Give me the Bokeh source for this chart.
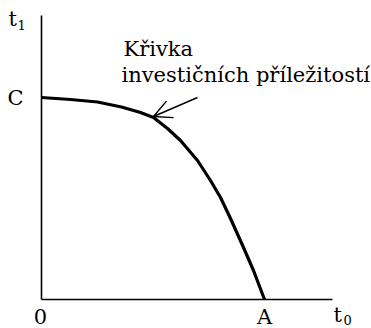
from bokeh.plotting import figure
from bokeh.models import Range1d, Arrow, OpenHead
from bokeh.core.properties import value
from bokeh.embed import file_html
from bokeh.resources import INLINE

# data
curve_t0 = [0, 29, 56, 80, 99, 112, 126, 139, 156, 169, 179, 189, 202, 212, 223]
curve_t1 = [202, 200, 197.5, 192.5, 187, 182, 171, 159, 139, 119, 102, 81, 52, 29, 0]
C_value = 202
A_value = 223
axis_x_end = 291
axis_y_end = 284
label_lines = ["Křivka", "investičních příležitostí"]
arrow_from = (156, 202)
arrow_to = (112, 183)

FONT = "DejaVu Serif"

p = figure(width=371, height=328, output_backend="svg", toolbar_location=None,
           x_range=Range1d(-41, 330), y_range=Range1d(-29, 299),
           min_border=0, min_border_left=0, min_border_right=0,
           min_border_top=0, min_border_bottom=0)
p.axis.visible = False
p.grid.visible = False
p.outline_line_color = None
p.background_fill_color = "white"
p.border_fill_color = "white"

# axes
p.line([0, 0], [0, axis_y_end], line_color="black", line_width=1.6)
p.line([0, axis_x_end], [0, 0], line_color="black", line_width=1.6)

# curve
p.line(curve_t0, curve_t1, line_color="black", line_width=3.2, line_join="round")

# arrow
p.add_layout(Arrow(end=OpenHead(size=18, line_width=1.4, line_color="black"),
                   x_start=arrow_from[0], y_start=arrow_from[1],
                   x_end=arrow_to[0], y_end=arrow_to[1],
                   line_width=1.4, line_color="black"))

fs = "21px"
# annotation text
p.text([82], [250.5], text=[label_lines[0]], text_font=value(FONT), text_font_size=fs,
       text_baseline="middle", text_align="left", text_color="black")
p.text([80], [224.5], text=[label_lines[1]], text_font=value(FONT), text_font_size=fs,
       text_baseline="middle", text_align="left", text_color="black")

# axis labels
lfs = "21px"
p.text([-18], [C_value], text=["C"], text_font=value(FONT), text_font_size=lfs,
       text_baseline="middle", text_align="right", text_color="black")
p.text([-1], [-17], text=["0"], text_font=value(FONT), text_font_size=lfs,
       text_baseline="middle", text_align="center", text_color="black")
p.text([A_value], [-17], text=["A"], text_font=value(FONT), text_font_size=lfs,
       text_baseline="middle", text_align="center", text_color="black")
# t1
p.text([-33], [281], text=["t"], text_font=value(FONT), text_font_size=lfs,
       text_baseline="middle", text_align="left", text_color="black")
p.text([-24], [274.5], text=["1"], text_font=value(FONT), text_font_size="13px",
       text_baseline="middle", text_align="left", text_color="black")
# t0
p.text([292], [-15], text=["t"], text_font=value(FONT), text_font_size=lfs,
       text_baseline="middle", text_align="left", text_color="black")
p.text([302], [-20], text=["0"], text_font=value(FONT), text_font_size="13px",
       text_baseline="middle", text_align="left", text_color="black")

open("out.html", "w").write(file_html(p, INLINE))
